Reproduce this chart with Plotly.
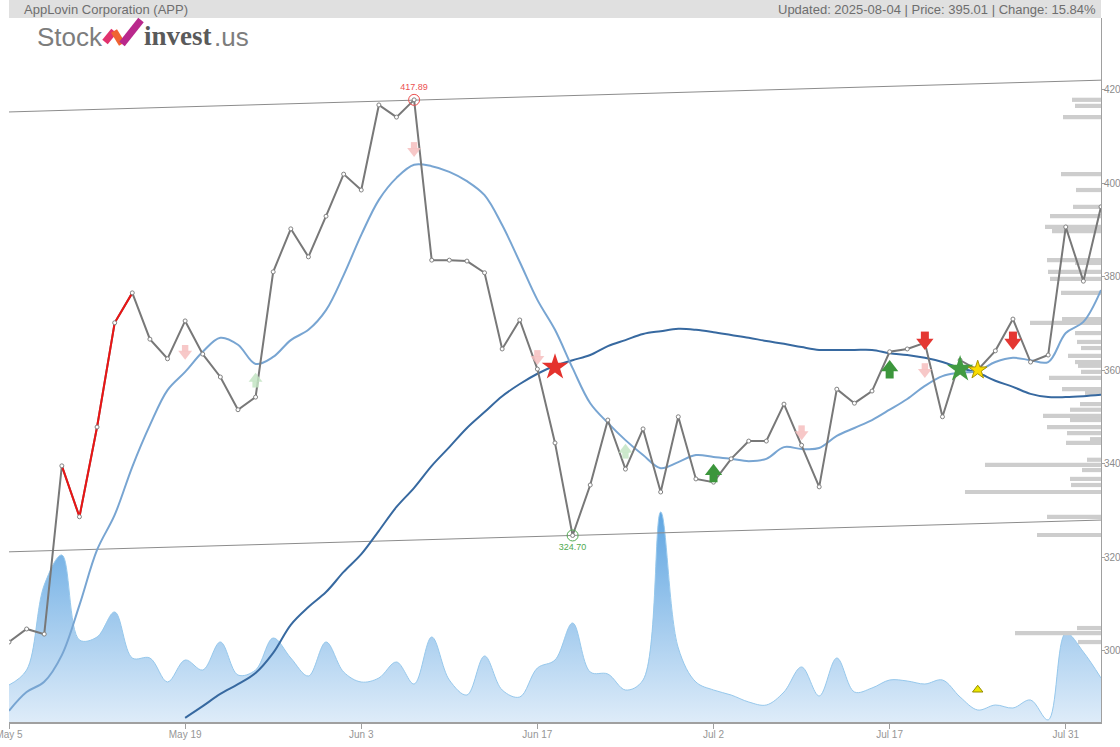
import plotly.graph_objects as go

# ---------------- data ----------------
tick_idx = [0, 10, 20, 30, 40, 50, 60]
tick_text = ["May 5", "May 19", "Jun 3", "Jun 17", "Jul 2", "Jul 17", "Jul 31"]

price = [301.9, 304.7, 303.6, 339.6, 328.7, 347.9, 370.2, 376.6, 366.7, 362.5,
         370.6, 363.5, 358.6, 351.6, 354.3, 381.1, 390.3, 384.3, 393.0, 402.0,
         398.6, 416.8, 414.2, 417.89, 383.6, 383.6, 383.4, 380.9, 364.6, 370.8,
         360.3, 344.5, 324.70, 335.5, 349.4, 338.9, 347.5, 334.0, 350.1, 336.8,
         336.1, 341.1, 344.9, 344.9, 352.8, 344.0, 335.1, 356.0, 353.0, 355.6,
         364.0, 364.6, 365.9, 350.1, 362.2, 360.1, 364.2, 371.0, 361.8, 363.3,
         390.7, 379.1, 395.01]

ma_short = [287.2, 291.2, 293.4, 299.1, 309.8, 321.6, 329.1, 339.4, 348.3, 355.8,
            359.7, 364.0, 367.0, 365.5, 361.4, 362.9, 366.5, 368.7, 372.9, 380.4,
            389.0, 396.5, 401.2, 404.0, 403.7, 402.5, 400.5, 397.5, 391.1, 383.2,
            375.1, 368.7, 360.5, 353.0, 348.8, 345.1, 341.9, 339.1, 340.4, 341.9,
            341.5, 341.1, 340.6, 341.1, 343.6, 343.2, 343.4, 346.0, 347.7, 349.4,
            351.6, 353.9, 356.7, 358.8, 359.5, 359.9, 361.8, 362.7, 362.2, 361.8,
            368.0, 370.4, 377.2]

ma_long = [None] * 10 + [
    285.7, 288.2, 290.8, 292.9, 295.3, 299.6, 305.6, 309.4, 312.6, 316.9,
    320.7, 325.7, 330.8, 334.9, 339.6, 343.6, 347.7, 351.1, 354.5, 357.1,
    359.3, 361.0, 362.2, 363.3, 365.2, 366.5, 367.8, 368.4, 368.9, 368.7,
    368.2, 367.6, 367.0, 366.3, 365.7, 365.0, 364.4, 364.4, 364.4, 364.4,
    363.7, 363.3, 362.7, 361.8, 360.5, 359.5, 357.8, 356.5, 355.0, 354.3,
    354.3, 354.5, 354.8]

volume_m = [1.85, 2.6, 6.85, 8.35, 4.1, 4.25, 5.5, 3.2, 3.2, 2.0,
            3.1, 2.6, 4.0, 2.35, 2.6, 4.2, 3.2, 2.3, 4.0, 2.5,
            2.0, 2.2, 3.0, 1.9, 4.25, 2.1, 1.35, 3.3, 1.6, 1.25,
            2.7, 3.1, 4.95, 2.5, 2.4, 1.6, 2.1, 10.5, 3.7, 2.0,
            1.6, 1.35, 1.0, 0.85, 1.5, 2.75, 1.3, 3.2, 1.5, 1.7,
            2.1, 2.05, 1.9, 2.1, 1.25, 0.6, 0.85, 0.7, 1.1, 0.1,
            4.45, 3.5, 2.2]

red_seg_idx = [3, 4, 5, 6, 7]

trend_x = [0, 62]
trend_upper = [415.3, 422.1]
trend_lower = [321.2, 328.0]

profile_price = [417.9, 416.6, 414.2, 402.0, 398.6, 395.0, 393.0, 390.7, 389.8, 383.6,
                 383.0, 381.1, 379.6, 376.6, 371.0, 370.2, 368.0, 366.1, 364.8, 363.1,
                 361.8, 361.0, 359.7, 358.4, 356.0, 355.2, 352.8, 351.6, 350.3, 349.4,
                 347.9, 346.6, 345.3, 344.5, 340.9, 339.8, 338.7, 336.8, 335.5, 334.0,
                 328.7, 324.8, 304.9, 303.8, 301.9]
profile_volume = [29, 26, 38, 40, 25, 28, 51, 56, 49, 54,
                  26, 53, 51, 40, 39, 71, 26, 24, 20, 33,
                  26, 23, 20, 52, 39, 16, 21, 31, 58, 31,
                  54, 34, 11, 35, 14, 116, 19, 31, 30, 136,
                  54, 64, 24, 86, 23]
profile_scale = 1 / 17.61  # volume units -> index units

weak_sell_x = [10, 23, 30, 45, 52]
weak_sell_y = [364.0, 407.4, 362.9, 346.8, 360.1]
weak_buy_x = [14, 35]
weak_buy_y = [357.8, 342.6]
sell_x = [52, 57]
sell_y = [366.5, 366.5]
buy_x = [40, 50]
buy_y = [337.9, 360.1]
red_star = (31, 360.7)
green_star = (54, 360.3)
yellow_star = (55, 360.1)
yellow_tri = (55, 291.7)

hi_idx, hi_val = 23, 417.89
lo_idx, lo_val = 32, 324.70

idx = list(range(len(price)))

# ---------------- geometry ----------------
L, R, T, B = 9, 19, 18, 25
W, H = 1120, 747
pw, ph = W - L - R, H - T - B
Y_RANGE = [284.8, 435.4]
unit_per_px = (Y_RANGE[1] - Y_RANGE[0]) / ph

def px(xp):
    return (xp - L) / pw

def py(yp):
    return (H - B - yp) / ph

# ---------------- figure ----------------
fig = go.Figure()

# volume area (base axes, drawn first)
fig.add_trace(go.Scatter(
    x=idx, y=volume_m, mode="lines", line=dict(color="rgb(150,200,236)", width=1, shape="spline", smoothing=1),
    fill="tozeroy",
    fillgradient=dict(type="vertical", colorscale=[[0, "rgb(222,236,249)"], [1, "rgb(95,165,225)"]],
                      start=0, stop=10.5),
    xaxis="x", yaxis="y", hoverinfo="skip"))

# volume by price
fig.add_trace(go.Bar(
    y=profile_price, x=[-v * profile_scale for v in profile_volume], base=62,
    orientation="h", width=0.9, marker=dict(color="rgb(205,205,205)", line=dict(width=0)),
    xaxis="x", yaxis="y2", hoverinfo="skip"))

# trend lines
for tl in (trend_upper, trend_lower):
    fig.add_trace(go.Scatter(x=trend_x, y=tl, mode="lines", line=dict(color="rgb(140,140,140)", width=1),
                             xaxis="x", yaxis="y2", hoverinfo="skip"))

# moving averages
fig.add_trace(go.Scatter(x=idx, y=ma_long, mode="lines", line=dict(color="rgb(55,105,160)", width=2, shape="spline"),
                         xaxis="x", yaxis="y2", connectgaps=False))
fig.add_trace(go.Scatter(x=idx, y=ma_short, mode="lines", line=dict(color="rgb(120,165,210)", width=2, shape="spline"),
                         xaxis="x", yaxis="y2"))

# price
fig.add_trace(go.Scatter(x=idx, y=price, mode="lines", line=dict(color="rgb(120,120,120)", width=2),
                         xaxis="x", yaxis="y2"))
fig.add_trace(go.Scatter(x=red_seg_idx, y=[price[i] for i in red_seg_idx], mode="lines",
                         line=dict(color="rgb(235,20,20)", width=2), xaxis="x", yaxis="y2"))
fig.add_trace(go.Scatter(x=idx, y=price, mode="markers",
                         marker=dict(size=4, color="white", line=dict(color="rgb(130,130,130)", width=1)),
                         xaxis="x", yaxis="y2"))

# high / low circles
fig.add_trace(go.Scatter(x=[hi_idx], y=[hi_val], mode="markers+text", text=[f"{hi_val:.2f}"],
                         textposition="top center", textfont=dict(color="rgb(235,80,80)", size=9),
                         marker=dict(size=11, color="rgba(0,0,0,0)", line=dict(color="rgb(235,80,80)", width=1)),
                         xaxis="x", yaxis="y2"))
fig.add_trace(go.Scatter(x=[lo_idx], y=[lo_val], mode="markers+text", text=[f"{lo_val:.2f}"],
                         textposition="bottom center", textfont=dict(color="rgb(80,170,80)", size=9),
                         marker=dict(size=11, color="rgba(0,0,0,0)", line=dict(color="rgb(80,170,80)", width=1)),
                         xaxis="x", yaxis="y2"))


# block arrows: triangle head + square stem
def arrows(xs, ys, direction, color, scale):
    s = scale
    d = 1 if direction == "down" else -1  # +1: head below centre (pixels downward)
    head_off = d * 2.5 * s        # pixels down from centre
    stem_off = -d * 4.5 * s
    head_y = [y - head_off * unit_per_px for y in ys]
    stem_y = [y - stem_off * unit_per_px for y in ys]
    fig.add_trace(go.Scatter(x=xs, y=stem_y, mode="markers",
                             marker=dict(symbol="square", size=8 * s, color=color, line=dict(width=0)),
                             xaxis="x", yaxis="y2", hoverinfo="skip"))
    fig.add_trace(go.Scatter(x=xs, y=head_y, mode="markers",
                             marker=dict(symbol="triangle-down" if direction == "down" else "triangle-up",
                                         size=15 * s, color=color, line=dict(width=0)),
                             xaxis="x", yaxis="y2", hoverinfo="skip"))


arrows(weak_sell_x, weak_sell_y, "down", "rgba(246,190,190,0.85)", 0.8)
arrows(weak_buy_x, weak_buy_y, "up", "rgba(195,228,195,0.85)", 0.8)
arrows(sell_x, sell_y, "down", "rgb(228,55,50)", 1.0)
arrows(buy_x, buy_y, "up", "rgb(60,150,60)", 1.0)

# stars & triangle
fig.add_trace(go.Scatter(x=[red_star[0]], y=[red_star[1]], mode="markers",
                         marker=dict(symbol="star", size=20, color="rgb(228,50,45)", line=dict(width=0)),
                         xaxis="x", yaxis="y2"))
fig.add_trace(go.Scatter(x=[green_star[0]], y=[green_star[1]], mode="markers",
                         marker=dict(symbol="star", size=20, color="rgb(65,155,65)", line=dict(width=0)),
                         xaxis="x", yaxis="y2"))
fig.add_trace(go.Scatter(x=[yellow_star[0]], y=[yellow_star[1]], mode="markers",
                         marker=dict(symbol="star", size=14, color="rgb(250,220,0)", line=dict(color="rgb(170,150,0)", width=1)),
                         xaxis="x", yaxis="y2"))
fig.add_trace(go.Scatter(x=[yellow_tri[0]], y=[yellow_tri[1]], mode="markers",
                         marker=dict(symbol="triangle-up", size=9, color="rgb(235,230,0)", line=dict(color="rgb(150,140,0)", width=1)),
                         xaxis="x", yaxis="y2"))

# ---------------- layout ----------------
shapes = [
    dict(type="rect", xref="paper", yref="paper", x0=0, x1=1, y0=1, y1=py(0), fillcolor="rgb(224,224,224)",
         line=dict(width=0), layer="below"),
    # logo mark
    dict(type="line", xref="paper", yref="paper", x0=px(105), y0=py(42), x1=px(114), y1=py(31),
         line=dict(color="rgb(225,50,110)", width=7)),
    dict(type="line", xref="paper", yref="paper", x0=px(114), y0=py(31), x1=px(122), y1=py(44),
         line=dict(color="rgb(240,100,50)", width=7)),
    dict(type="line", xref="paper", yref="paper", x0=px(122), y0=py(44), x1=px(141), y1=py(20),
         line=dict(color="rgb(185,40,140)", width=7)),
]

annotations = [
    dict(text="AppLovin Corporation (APP)", xref="paper", yref="paper", x=px(22), y=py(9), xanchor="left",
         yanchor="middle", showarrow=False, font=dict(size=13, color="rgb(110,110,110)", family="Liberation Sans")),
    dict(text="Updated: 2025-08-04 | Price: 395.01 | Change: 15.84%", xref="paper", yref="paper", x=px(1098),
         y=py(9), xanchor="right", yanchor="middle", showarrow=False,
         font=dict(size=13, color="rgb(110,110,110)", family="Liberation Sans")),
    dict(text="Stock", xref="paper", yref="paper", x=px(35), y=py(37), xanchor="left", yanchor="middle",
         showarrow=False, font=dict(size=26, color="rgb(125,125,125)", family="Liberation Sans")),
    dict(text="<b>invest</b>", xref="paper", yref="paper", x=px(142), y=py(36), xanchor="left", yanchor="middle",
         showarrow=False, font=dict(size=27, color="rgb(90,90,90)", family="Liberation Serif")),
    dict(text=".us", xref="paper", yref="paper", x=px(212), y=py(37), xanchor="left", yanchor="middle",
         showarrow=False, font=dict(size=26, color="rgb(125,125,125)", family="Liberation Sans")),
]

fig.update_layout(
    width=W, height=H, margin=dict(l=L, r=R, t=T, b=B, autoexpand=False),
    paper_bgcolor="white", plot_bgcolor="white", showlegend=False,
    font=dict(family="Liberation Sans", color="rgb(150,150,150)", size=10),
    xaxis=dict(range=[0, 62], tickvals=tick_idx, ticktext=tick_text, showgrid=False, zeroline=False,
               showline=True, linecolor="rgb(160,160,160)", linewidth=2, ticks="outside", ticklen=5,
               tickcolor="rgb(160,160,160)", tickfont=dict(size=10, color="rgb(150,150,150)"),
               automargin=False, ticklabeloverflow="allow", ticklabelstandoff=-3),
    yaxis=dict(range=[0, 35.2], visible=False, fixedrange=True, automargin=False),
    yaxis2=dict(range=Y_RANGE, overlaying="y", side="right", anchor="x", showgrid=False, zeroline=False,
                showline=True, linecolor="rgb(160,160,160)", linewidth=1, ticks="outside", ticklen=3,
                tickcolor="rgb(160,160,160)", tickvals=[300, 320, 340, 360, 380, 400, 420],
                tickfont=dict(size=10, color="rgb(140,140,140)"), automargin=False,
                ticklabeloverflow="allow", ticklabelstandoff=-3),
    shapes=shapes, annotations=annotations,
)

fig.write_html("out.html")
